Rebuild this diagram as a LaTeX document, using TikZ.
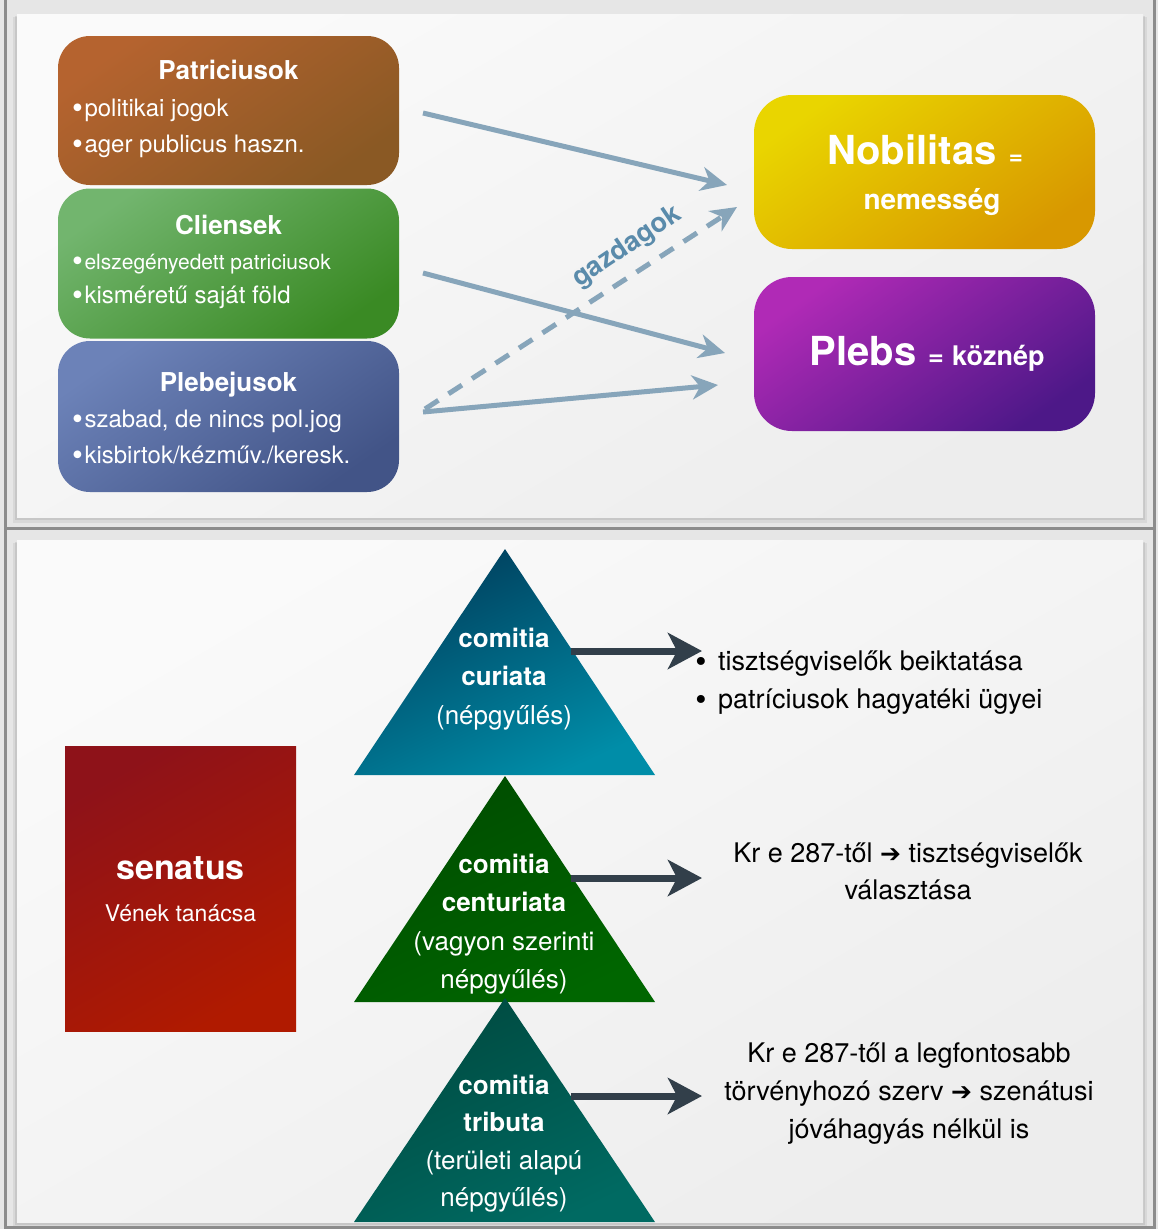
\documentclass[tikz,border=0pt]{standalone}
\usepackage{fontspec}
\setmainfont{TeX Gyre Heros}
\newfontfamily\dvsans{DejaVu Sans}
\usetikzlibrary{arrows.meta}
\newcommand\fs[1]{\fontsize{#1}{#1}\selectfont}
\newcommand\blt{\raisebox{-2.5pt}{\fs{31}•}\hspace{1.5pt}}
\definecolor{patA}{HTML}{B5632F}\definecolor{patB}{HTML}{8A5924}
\definecolor{cliA}{HTML}{72B56E}\definecolor{cliB}{HTML}{3A8A24}
\definecolor{pleA}{HTML}{6C82B8}\definecolor{pleB}{HTML}{425487}
\definecolor{nobA}{HTML}{E9D500}\definecolor{nobB}{HTML}{D89800}
\definecolor{plbA}{HTML}{B02AB6}\definecolor{plbB}{HTML}{4D1888}
\definecolor{senA}{HTML}{8E1219}\definecolor{senB}{HTML}{B01A00}
\definecolor{curA}{HTML}{003E5C}\definecolor{curB}{HTML}{008DA8}
\definecolor{cenA}{HTML}{004C00}\definecolor{cenB}{HTML}{006600}
\definecolor{tribA}{HTML}{004A40}\definecolor{tribB}{HTML}{006A62}
\definecolor{arrL}{HTML}{87A5BA}
\definecolor{arrD}{HTML}{323F4A}
\definecolor{gazd}{HTML}{5A8BAB}
\definecolor{frameC}{HTML}{8C8C8C}
\definecolor{bgC}{HTML}{E6E6E6}
\definecolor{panA}{HTML}{FAFAFA}\definecolor{panB}{HTML}{EDEDED}
\begin{document}
\begin{tikzpicture}[x=1pt,y=-1pt,
  wt/.style={text=white, inner sep=0pt, anchor=base},
  wtl/.style={text=white, inner sep=0pt, anchor=base west},
  bt/.style={text=black, inner sep=0pt, anchor=base},
  btl/.style={text=black, inner sep=0pt, anchor=base west},
  grpbox/.style={rounded corners=32pt, minimum width=341pt, inner sep=0pt},
  bigbox/.style={rounded corners=38pt, minimum width=341pt, minimum height=154pt, inner sep=0pt},
  lightarrow/.style={draw=arrL, line width=5pt, -{Stealth[length=26pt,width=24pt,inset=8pt]}},
  darkarrow/.style={draw=arrD, line width=7pt, -{Stealth[length=34pt,width=36pt,inset=9pt]}},
  panel/.style={top color=panA, bottom color=panB, shading angle=30},
]
\useasboundingbox (0,0) rectangle (1158,1229);
% background and frame
\fill[bgC] (0,0) rectangle (1158,1229);
\fill[black,opacity=.06] (13,17) rectangle (1147,523);
\fill[black,opacity=.08] (15,16) rectangle (1145,520);
\shade[panel] (17,14) rectangle (1143,517);
\fill[black,opacity=.06] (13,543) rectangle (1147,1227);
\fill[black,opacity=.08] (15,542) rectangle (1145,1225);
\shade[panel] (17,540) rectangle (1143,1222);
\draw[frameC, line width=3pt] (5,0) -- (5,1229);
\draw[frameC, line width=3pt] (1154,0) -- (1154,1229);
\draw[frameC, line width=3pt] (5,528.5) -- (1154,528.5);
\draw[frameC, line width=3pt] (5,1227.5) -- (1154,1227.5);

% top left groups
\node[grpbox, minimum height=149pt, top color=patA, bottom color=patB, shading angle=35] (pat) at (228.5,110.5) {};
\node[grpbox, minimum height=150pt, top color=cliA, bottom color=cliB, shading angle=35] (cli) at (228.5,263.5) {};
\node[grpbox, minimum height=151pt, top color=pleA, bottom color=pleB, shading angle=35] (ple) at (228.5,416.5) {};

\node[wt, font={\fs{26}\bfseries}] (patT) at (228.5,79) {Patriciusok};
\node[wtl, font={\fs{24}}] (patB1) at (72,116) {\blt politikai jogok};
\node[wtl, font={\fs{24}}] (patB2) at (72,152) {\blt ager publicus haszn.};

\node[wt, font={\fs{26}\bfseries}] (cliT) at (228.5,234) {Cliensek};
\node[wtl, font={\fs{21}}] (cliB1) at (72,269) {\blt elszegényedett patriciusok};
\node[wtl, font={\fs{24}}] (cliB2) at (72,303) {\blt kisméretű saját föld};

\node[wt, font={\fs{26}\bfseries}] (pleT) at (228.5,391) {Plebejusok};
\node[wtl, font={\fs{24}}] (pleB1) at (72,427) {\blt szabad, de nincs pol.jog};
\node[wtl, font={\fs{24}}] (pleB2) at (72,463) {\blt kisbirtok/kézműv./keresk.};

% right groups
\node[bigbox, top color=nobA, bottom color=nobB, shading angle=35] (nob) at (924.5,172) {};
\node[bigbox, top color=plbA, bottom color=plbB, shading angle=35] (plb) at (924.5,354) {};
\node[wt] (nobT) at (925,164) {{\fs{40}\bfseries Nobilitas}\hspace{12pt}{\fs{24}\bfseries =}};
\node[wt, font={\fs{28}\bfseries}] (nobS) at (932,209) {nemesség};
\node[wt] (plbT) at (927,365) {{\fs{40}\bfseries Plebs}\hspace{12pt}{\fs{27}\bfseries =\hspace{8pt}köznép}};

% light arrows
\coordinate (s1) at (423,113);
\coordinate (e1) at (727,185);
\coordinate (s2) at (423,273);
\coordinate (e2) at (725,353);
\coordinate (s3) at (423,412);
\coordinate (e3) at (718,385);
\coordinate (sd) at (425,409);
\coordinate (ed) at (737,207);
\draw[lightarrow] (s1) -- (e1);
\draw[lightarrow] (s2) -- (e2);
\draw[lightarrow] (s3) -- (e3);
\draw[lightarrow, dash pattern=on 16pt off 12pt] (sd) -- (ed);
\node[text=gazd, font={\fs{27}\bfseries}, rotate=34, inner sep=0pt] (gazdagok) at (627,247) {gazdagok};

% senatus
\node[minimum width=231pt, minimum height=285pt, inner sep=0pt, top color=senA, bottom color=senB, shading angle=30] (sen) at (180.5,888.5) {};
\node[wt, font={\fs{34}\bfseries}] (senT) at (180.5,879) {senatus};
\node[wt, font={\fs{23}}] (senS) at (180.5,921) {Vének tanácsa};

% triangles
\coordinate (t1a) at (505,549); \coordinate (t1l) at (354,775); \coordinate (t1r) at (655,775);
\coordinate (t2a) at (505,776); \coordinate (t2l) at (354,1002); \coordinate (t2r) at (655,1002);
\coordinate (t3a) at (505,998); \coordinate (t3l) at (354,1222); \coordinate (t3r) at (655,1222);
\shade[top color=curA, bottom color=curB, shading angle=25] (t1a) -- (t1l) -- (t1r) -- cycle;
\shade[top color=cenA, bottom color=cenB, shading angle=25] (t2a) -- (t2l) -- (t2r) -- cycle;
\shade[top color=tribA, bottom color=tribB, shading angle=25] (t3a) -- (t3l) -- (t3r) -- cycle;

\node[wt, font={\fs{26}\bfseries}] (c1a) at (504,647) {comitia};
\node[wt, font={\fs{26}\bfseries}] (c1b) at (504,685) {curiata};
\node[wt, font={\fs{26}}] (c1c) at (504,724) {(népgyűlés)};

\node[wt, font={\fs{26}\bfseries}] (c2a) at (504,873) {comitia};
\node[wt, font={\fs{26}\bfseries}] (c2b) at (504,911) {centuriata};
\node[wt, font={\fs{26}}] (c2c) at (504,950) {(vagyon szerinti};
\node[wt, font={\fs{26}}] (c2d) at (504,988) {népgyűlés)};

\node[wt, font={\fs{26}\bfseries}] (c3a) at (504,1094) {comitia};
\node[wt, font={\fs{26}\bfseries}] (c3b) at (504,1131) {tributa};
\node[wt, font={\fs{26}}] (c3c) at (504,1169) {(területi alapú};
\node[wt, font={\fs{26}}] (c3d) at (504,1206) {népgyűlés)};

% dark arrows
\coordinate (d1s) at (571,651); \coordinate (d1e) at (702,651);
\coordinate (d2s) at (571,878); \coordinate (d2e) at (702,878);
\coordinate (d3s) at (571,1096); \coordinate (d3e) at (702,1096);
\draw[darkarrow] (d1s) -- (d1e);
\draw[darkarrow] (d2s) -- (d2e);
\draw[darkarrow] (d3s) -- (d3e);

% right texts
\node[bt, font={\fs{32}}] (bul1) at (701,672) {•};
\node[btl, font={\fs{27}}] (r1a) at (718,670) {tisztségviselők beiktatása};
\node[bt, font={\fs{32}}] (bul2) at (701,710) {•};
\node[btl, font={\fs{27}}] (r1b) at (718,708) {patríciusok hagyatéki ügyei};

\node[bt, font={\fs{27}}] (r2a) at (908,862) {Kr e 287-től {\dvsans\fs{25}➔} tisztségviselők};
\node[bt, font={\fs{27}}] (r2b) at (908,899) {választása};

\node[bt, font={\fs{27}}] (r3a) at (909,1062) {Kr e 287-től a legfontosabb};
\node[bt, font={\fs{27}}] (r3b) at (909,1100) {törvényhozó szerv {\dvsans\fs{25}➔} szenátusi};
\node[bt, font={\fs{27}}] (r3c) at (909,1138) {jóváhagyás nélkül is};
\end{tikzpicture}
\end{document}
